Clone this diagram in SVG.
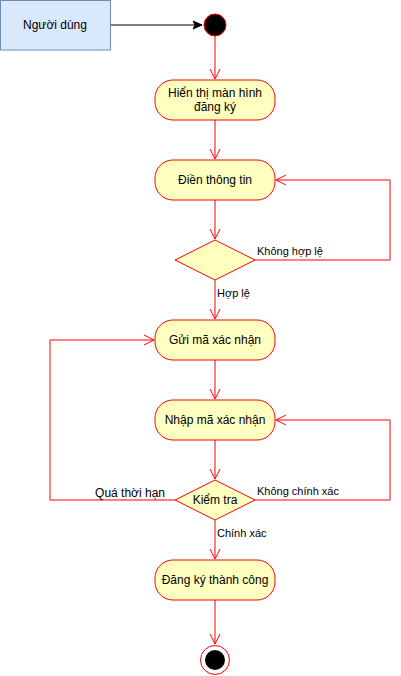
<svg xmlns="http://www.w3.org/2000/svg" width="401" height="676" viewBox="0 0 401 676">
<style>
.act{fill:#ffffc0;stroke:#ff0000;stroke-width:1}
.t{font-family:"Liberation Sans",Arial,sans-serif;font-size:12px;fill:#000;text-anchor:middle}
.lbl{font-family:"Liberation Sans",Arial,sans-serif;font-size:11px;fill:#000}
.e{fill:none;stroke:#ff0000;stroke-width:1}
</style>
<defs>
<marker id="open" markerWidth="12" markerHeight="12" refX="10" refY="5" orient="auto" markerUnits="userSpaceOnUse" viewBox="0 0 12 10" overflow="visible">
<path d="M0,0 L10,5 L0,10" fill="none" stroke="#ff0000" stroke-width="1"/>
</marker>
<marker id="fill" markerWidth="10" markerHeight="10" refX="9" refY="4" orient="auto" markerUnits="userSpaceOnUse" viewBox="0 0 10 8">
<path d="M0,0 L9,4 L0,8 L2,4 Z" fill="#000" stroke="#000" stroke-width="1"/>
</marker>
</defs>
<g id="connectors">
<line x1="110" y1="25" x2="202" y2="25" stroke="#000" stroke-width="1" marker-end="url(#fill)"/>
<line class="e" x1="215" y1="36" x2="215" y2="79" marker-end="url(#open)"/>
<line class="e" x1="215" y1="120" x2="215" y2="159" marker-end="url(#open)"/>
<line class="e" x1="215" y1="200" x2="215" y2="239" marker-end="url(#open)"/>
<line class="e" x1="215" y1="280" x2="215" y2="319" marker-end="url(#open)"/>
<line class="e" x1="215" y1="360" x2="215" y2="399" marker-end="url(#open)"/>
<line class="e" x1="215" y1="440" x2="215" y2="479" marker-end="url(#open)"/>
<line class="e" x1="215" y1="520" x2="215" y2="559" marker-end="url(#open)"/>
<line class="e" x1="215" y1="600" x2="215" y2="644" marker-end="url(#open)"/>
<polyline class="e" points="255,260 390,260 390,180 276,180" marker-end="url(#open)"/>
<polyline class="e" points="255,500 390,500 390,420 276,420" marker-end="url(#open)"/>
<polyline class="e" points="175,500 50,500 50,340 154,340" marker-end="url(#open)"/>
<text class="lbl" x="257" y="255">Không hợp lệ</text>
<text class="lbl" x="217" y="297">Hợp lệ</text>
<text class="lbl" x="257" y="495">Không chính xác</text>
<text class="lbl" x="217" y="537">Chính xác</text>
<text class="lbl" x="165" y="497" text-anchor="end" style="font-size:12px">Quá thời hạn</text>
</g>
<g id="user">
<rect x="0.5" y="0.5" width="110" height="49.5" fill="#dae8fc" stroke="#6c8ebf"/>
<text class="t" x="55" y="29">Người dùng</text>
</g>
<g id="start">
<circle cx="215" cy="25" r="11" fill="#000" stroke="#ff0000"/>
</g>
<g id="show">
<rect class="act" x="155" y="80" width="120" height="40" rx="18"/>
<text class="t" x="215" y="97">Hiển thị màn hình</text>
<text class="t" x="215" y="111">đăng ký</text>
</g>
<g id="fill-info">
<rect class="act" x="155" y="160" width="120" height="40" rx="18"/>
<text class="t" x="215" y="184">Điền thông tin</text>
</g>
<g id="check1">
<polygon class="act" points="215,240 255,260 215,280 175,260"/>
</g>
<g id="send">
<rect class="act" x="155" y="320" width="120" height="40" rx="18"/>
<text class="t" x="215" y="344">Gửi mã xác nhận</text>
</g>
<g id="enter">
<rect class="act" x="155" y="400" width="120" height="40" rx="18"/>
<text class="t" x="215" y="424">Nhập mã xác nhận</text>
</g>
<g id="check2">
<polygon class="act" points="215,480 255,500 215,520 175,500"/>
<text class="t" x="215" y="504">Kiểm tra</text>
</g>
<g id="success">
<rect class="act" x="155" y="560" width="120" height="40" rx="18"/>
<text class="t" x="215" y="584">Đăng ký thành công</text>
</g>
<g id="end">
<circle cx="215" cy="660" r="14.5" fill="none" stroke="#ff0000"/>
<circle cx="215" cy="660" r="10" fill="#000"/>
</g>
</svg>
